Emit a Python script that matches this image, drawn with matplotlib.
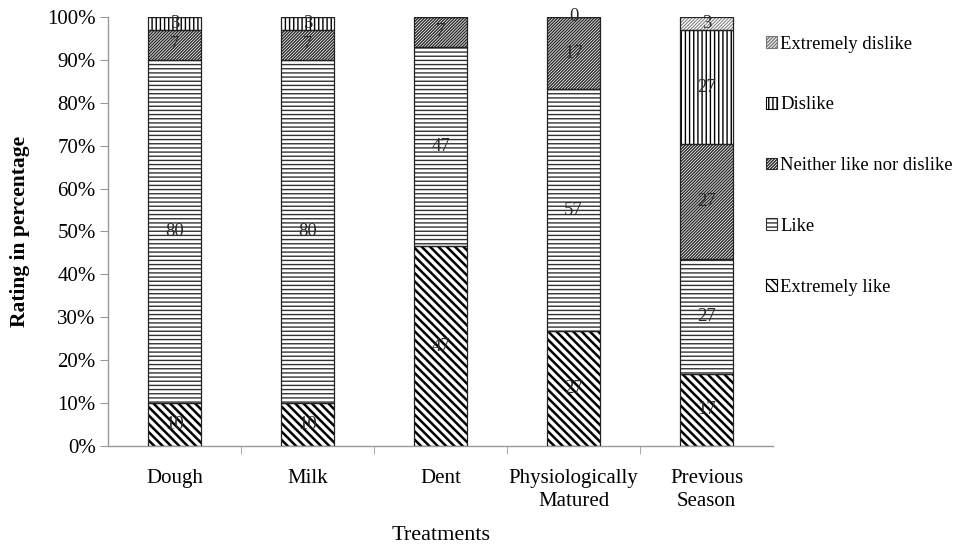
import matplotlib
matplotlib.use("Agg")
import matplotlib.pyplot as plt
from matplotlib.patches import Patch
import numpy as np

plt.rcParams['font.family'] = ['Liberation Serif', 'DejaVu Serif']

# Sensory ratings (% of panelists) per harvest stage; None = no data label shown
treatments = ["Dough", "Milk", "Dent", "Physiologically\nMatured", "Previous\nSeason"]
extremely_like = [10, 10, 47, 27, 17]
like = [80, 80, 47, 57, 27]
neither = [7, 7, 7, 17, 27]
dislike = [3, 3, None, 0, 27]
extremely_dislike = [None, None, None, None, 3]

series = [
    ("Extremely like", extremely_like, dict(hatch="\\" * 4, hc="black", hlw=1.8)),
    ("Like", like, dict(hatch="----", hc="#333333", hlw=1.0)),
    ("Neither like nor dislike", neither, dict(hatch="/" * 11, hc="#2a2a2a", hlw=1.0)),
    ("Dislike", dislike, dict(hatch="||||", hc="black", hlw=1.0)),
    ("Extremely dislike", extremely_dislike, dict(hatch="/" * 10, hc="#777777", hlw=0.7)),
]

vals = np.array([[0 if v is None else v for v in s[1]] for s in series], dtype=float)
totals = vals.sum(axis=0)
pct = vals / totals * 100  # 100% stacked

fig = plt.figure(figsize=(9.54, 5.47), dpi=100)
ax = fig.add_axes([0.1135, 0.1846, 0.697, 0.7844])

x = np.arange(len(treatments))
width = 0.4
bottom = np.zeros(len(treatments))
handles = []
for (name, raw, st), p in zip(series, pct):
    hb = ax.bar(x, p, width, bottom=bottom, color="white", edgecolor=st["hc"],
                linewidth=0, hatch=st["hatch"], zorder=2)
    for patch in hb:
        if hasattr(patch, "set_hatch_linewidth"):
            patch.set_hatch_linewidth(st["hlw"])
    ax.bar(x, p, width, bottom=bottom, fill=False, edgecolor="#222222",
           linewidth=0.9, zorder=3)
    for xi, b, h, r in zip(x, bottom, p, raw):
        if r is not None:
            ax.text(xi, b + h / 2, f"{r}", ha="center", va="center",
                    fontsize=13.5, color="#2a2a2a", zorder=4)
    hp = Patch(facecolor="white", edgecolor=st["hc"], hatch=st["hatch"], linewidth=0.8)
    if hasattr(hp, "set_hatch_linewidth"):
        hp.set_hatch_linewidth(min(st["hlw"], 1.0))
    handles.append((hp, name))
    bottom += p

ax.set_xlim(-0.5, len(treatments) - 0.5)
ax.set_ylim(0, 100)
ax.set_yticks(np.arange(0, 101, 10))
ax.set_yticklabels([f"{v}%" for v in range(0, 101, 10)], fontsize=15)
ax.set_xticks(x)
ax.set_xticklabels(treatments, fontsize=15, linespacing=1.3)
ax.set_xticks(np.arange(0.5, len(treatments) - 0.5, 1), minor=True)
ax.tick_params(axis="x", which="major", length=0, pad=16.5)
ax.tick_params(axis="x", which="minor", length=6, color="#999999", direction="out")
ax.tick_params(axis="y", length=6, color="#999999", direction="out", pad=3)
for s in ["top", "right"]:
    ax.spines[s].set_visible(False)
for s in ["left", "bottom"]:
    ax.spines[s].set_color("#999999")
    ax.spines[s].set_linewidth(1.0)

ax.set_ylabel("Rating in percentage", fontsize=15.5, fontweight="bold", labelpad=12)
ax.set_xlabel("Treatments", fontsize=16, labelpad=10.5)

hs = [h for h, _ in handles][::-1]
ls = [n for _, n in handles][::-1]
fig.legend(hs, ls, loc="upper left", bbox_to_anchor=(0.795, 0.9485), frameon=False,
           fontsize=13.4, handlelength=0.6, handleheight=0.6, handletextpad=0.16,
           labelspacing=2.35, borderaxespad=0)

fig.savefig("out.png", dpi=100)
